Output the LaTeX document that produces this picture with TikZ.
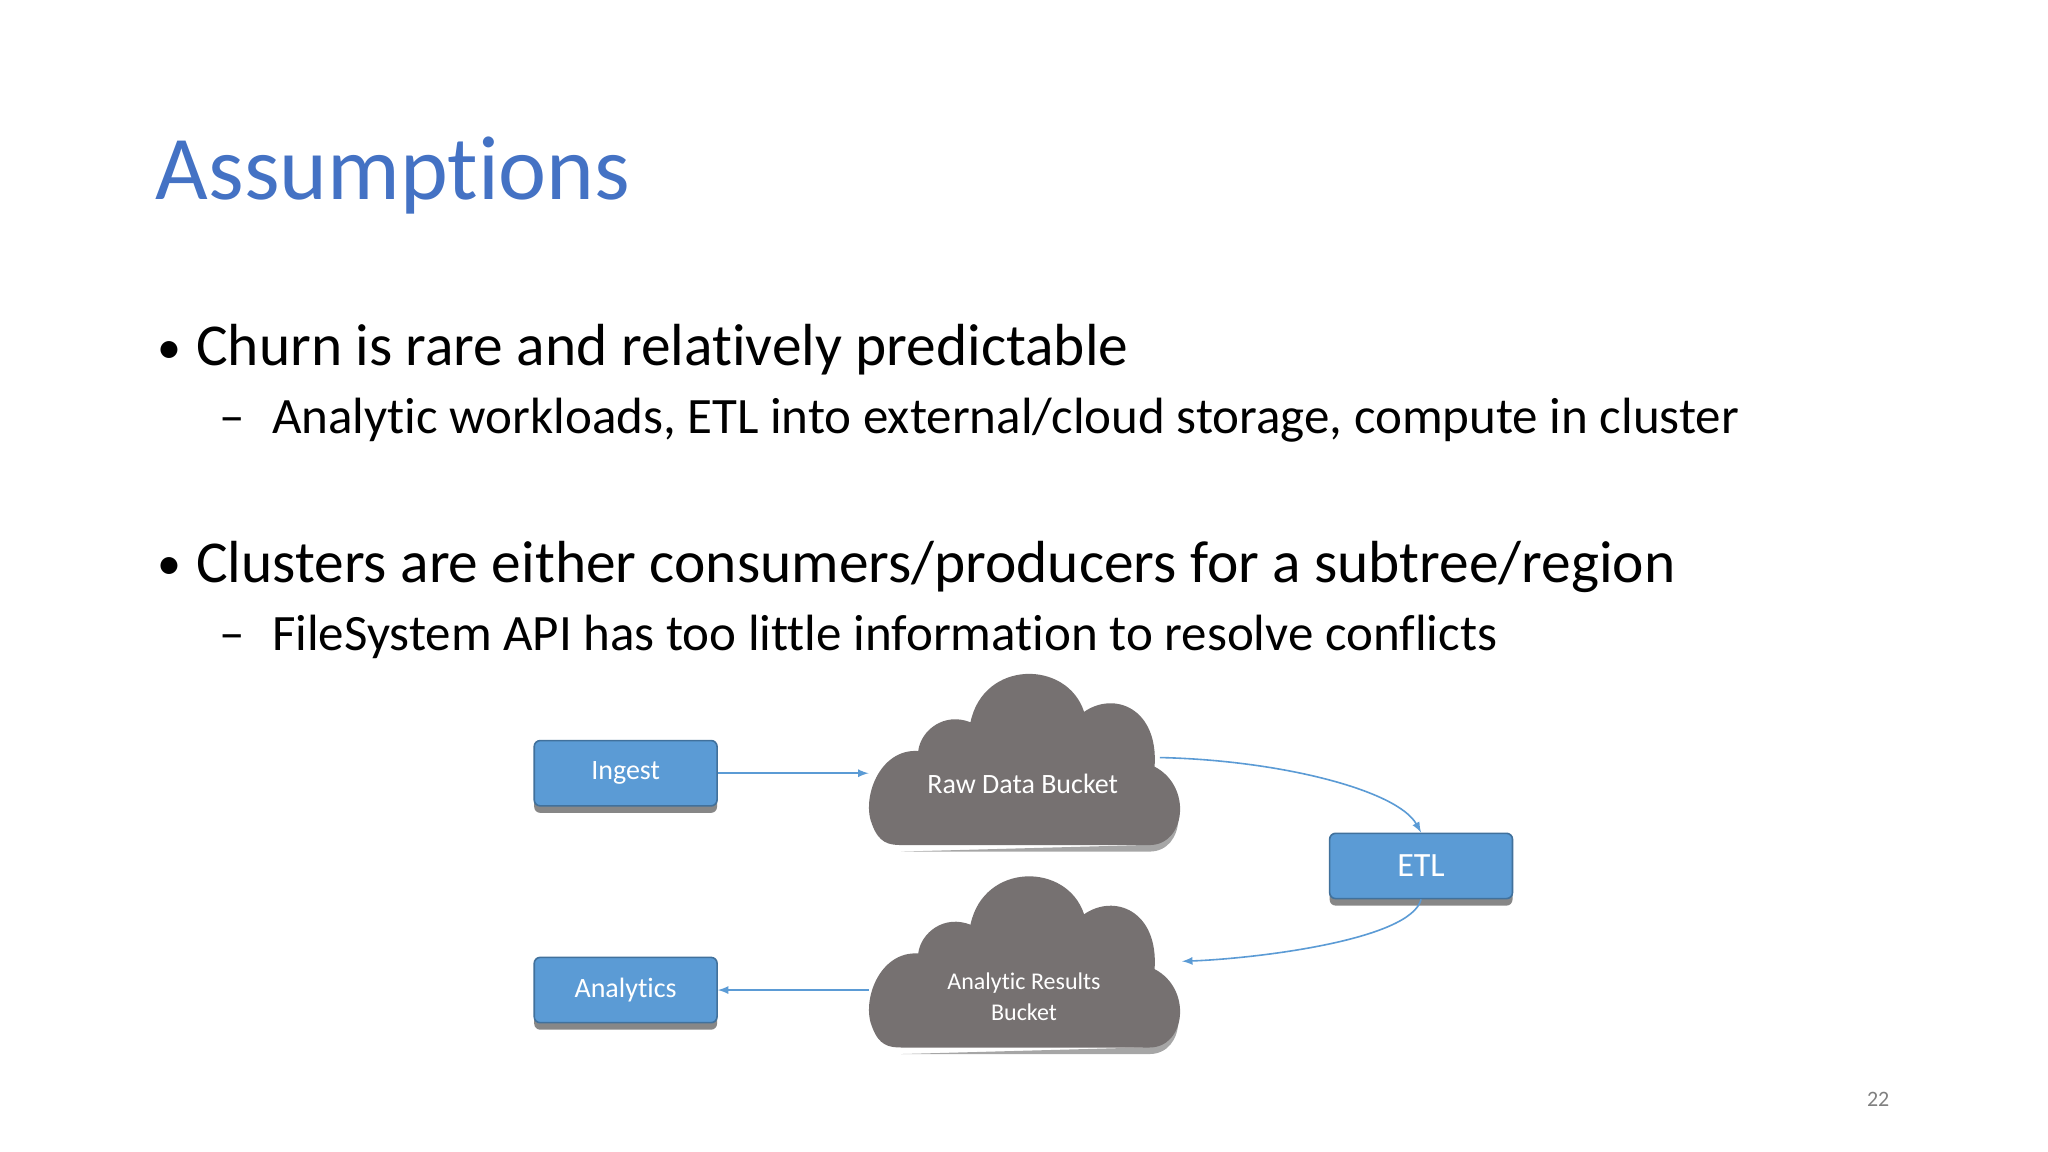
\documentclass[tikz,border=0pt]{standalone}
\usepackage{fontspec}
\setmainfont[Ligatures={NoCommon}]{Carlito}
\usetikzlibrary{shadows}
\definecolor{ttl}{HTML}{4472C4}
\definecolor{boxb}{HTML}{5B9BD5}
\definecolor{boxd}{HTML}{41719C}
\definecolor{cld}{HTML}{767171}
\definecolor{arr}{HTML}{5B9BD5}
\begin{document}
\begin{tikzpicture}[x=0.653pt,y=-0.653pt,
  box/.style={draw=boxd,line width=0.8pt,fill=boxb,rounded corners=3pt,minimum width=140*0.653pt,minimum height=50*0.653pt,text=white,drop shadow={shadow xshift=0pt,shadow yshift=-3.5pt,opacity=0.55,fill=black!85}},
  con/.style={draw=arr,line width=0.8pt,-latex},
  bl/.style={anchor=base west,inner sep=0,font=\fontsize{29.7}{34}\selectfont},
  sb/.style={anchor=base west,inner sep=0,font=\fontsize{25.5}{29}\selectfont}]
\useasboundingbox (0,0) rectangle (1568,882);
\fill[white] (0,0) rectangle (1568,882);
\node[anchor=base west,inner sep=0,text=ttl,font=\fontsize{45.5}{50}\selectfont] (title) at (119,153) {Assumptions};
\node[bl,font=\fontsize{24}{30}\selectfont] (b1d) at (120,278) {•};
\node[bl] (b1) at (150,280) {Churn is rare and relatively predictable};
\node[sb] (s1d) at (168,332) {–};
\node[sb] (s1) at (208,332) {Analytic workloads, ETL into external/cloud storage, compute in cluster};
\node[bl,font=\fontsize{24}{30}\selectfont] (b2d) at (120,444) {•};
\node[bl] (b2) at (150,446) {Clusters are either consumers/producers for a subtree/region};
\node[sb] (s2d) at (168,498) {–};
\node[sb] (s2) at (208,498) {FileSystem API has too little information to resolve conflicts};
% clouds
\foreach \cx/\cy in {665/517,665/672}{
 \begin{scope}[shift={(\cx,\cy)}]
 \fill[black,opacity=0.35] (25,135) -- (215,135) .. controls (243,135) and (245,90) .. (218,78) -- (210,130) -- cycle;
 \fill[cld] (25,130) -- (215,130) .. controls (243,130) and (248,85) .. (219,70)
   .. controls (222,25) and (188,12) .. (165,28)
   .. controls (152,-12) and (88,-12) .. (78,36)
   .. controls (58,28) and (40,42) .. (38,58)
   .. controls (8,56) and (-6,95) .. (3,115)
   .. controls (8,128) and (15,130) .. (25,130) -- cycle;
 \end{scope}}
\node[text=white,font=\fontsize{14}{16}\selectfont] (raw) at (783,600) {Raw Data Bucket};
\node[text=white,align=center,font=\fontsize{12}{15.5}\selectfont] (res) at (784,763) {Analytic Results\\Bucket};
\node[box,font=\fontsize{14}{16}\selectfont] (ing) at (479,592) {Ingest};
\node[box,font=\fontsize{14}{16}\selectfont] (ana) at (479,758) {Analytics};
\node[box,font=\fontsize{17}{20}\selectfont] (etl) at (1088,663) {ETL};
\coordinate (rawin) at (665,592);
\coordinate (rawout) at (888,580);
\coordinate (resin) at (905,736);
\coordinate (resout) at (665,758);
\draw[con] (ing.east) -- (rawin);
\draw[con] (rawout) .. controls (980,582) and (1070,605) .. (etl.north);
\draw[con] (etl.south) .. controls (1080,720) and (960,734) .. (resin);
\draw[con] (resout) -- (ana.east);
\node[text=gray,font=\fontsize{11}{13}\selectfont] (pg) at (1438,842) {22};
\end{tikzpicture}
\end{document}
